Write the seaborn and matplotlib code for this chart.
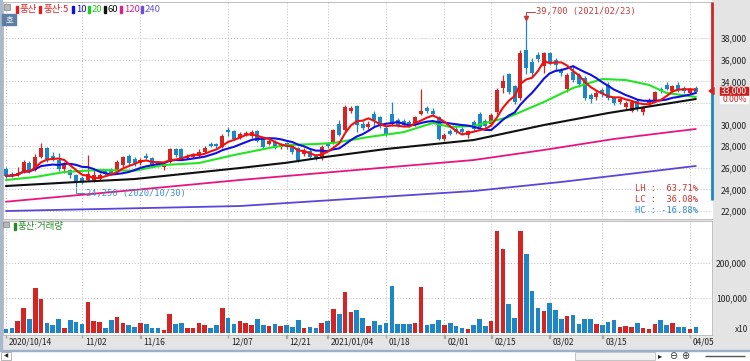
import numpy as np
import pandas as pd
import matplotlib
matplotlib.use('Agg')
import matplotlib.pyplot as plt
from matplotlib.patches import Rectangle, Polygon
import seaborn as sns

sns.set_style('white')
plt.rcParams['font.family'] = ['Noto Sans CJK KR', 'DejaVu Sans']
plt.rcParams['axes.unicode_minus'] = False

# 일봉 데이터 (2020/10/14 ~ 2021/04/06), 차트에서 읽은 값
opens = [25900, 25400, 25300, 25600, 26450, 25800, 27000, 27850, 27100, 26700,
         25900, 25800, 25300, 25100, 24900, 24900, 25000, 25700, 25800, 25800,
         26300, 27100, 26800, 26400, 27100, 26900, 26500, 26100, 26500, 27700,
         27700, 26900, 27000, 27100, 27500, 28200, 28200, 27900, 29500, 29400,
         28800, 29000, 28900, 29400, 28700, 28200, 28400, 27900, 28300, 28100,
         27800, 27300, 27600, 27100, 26900, 28200, 28300, 30100, 29500, 31300,
         31700, 30100, 29800, 31000, 30700, 29700, 31000, 30400, 30300, 30200,
         30000, 31000, 31500, 31300, 30700, 28700, 29400, 29600, 29600, 29000,
         30200, 31000, 30300, 30100, 31200, 33400, 34700, 33600, 32500, 36900,
         35800, 36400, 35400, 36600, 36000, 35000, 33300, 34900, 34600, 34300,
         32700, 32600, 33200, 33700, 32500, 32100, 31600, 31300, 32200, 31200,
         32000, 32300, 33300, 33700, 33100, 33700, 33400, 32900, 33400]
highs = [26100, 25600, 26100, 26700, 26600, 27300, 28300, 27900, 27500, 27400,
         26500, 25900, 25400, 25200, 27200, 25800, 25500, 25800, 26000, 26700,
         27100, 27300, 27000, 26900, 27400, 27000, 26600, 26500, 27800, 27800,
         27800, 27300, 27400, 27700, 28000, 28400, 28300, 29100, 29800, 29500,
         29300, 29400, 29500, 29500, 28800, 28700, 28600, 28300, 28400, 28200,
         27900, 27800, 27700, 27300, 28100, 28400, 29600, 30400, 31800, 31700,
         31800, 30300, 30300, 31300, 30800, 29900, 32100, 30600, 30500, 30400,
         30800, 33300, 31700, 31500, 30800, 29200, 29600, 29800, 29800, 29500,
         30400, 31200, 30500, 31100, 33400, 34600, 34800, 33700, 36900, 39700,
         36200, 36700, 36700, 36700, 36200, 35200, 34800, 35500, 34800, 34500,
         32900, 33100, 33400, 33900, 32600, 32600, 32200, 32300, 32400, 31700,
         32500, 33100, 33500, 33900, 33700, 33900, 33600, 33400, 33600]
lows = [25100, 25150, 25250, 25500, 25500, 25700, 26900, 26500, 26600, 25700,
        25500, 25100, 24250, 24500, 24800, 24700, 24900, 25300, 25400, 25700,
        26100, 26300, 26200, 26300, 26800, 26200, 26100, 25800, 26400, 27000,
        26700, 26800, 26900, 27000, 27400, 27900, 27800, 27800, 28900, 28600,
        28700, 28900, 28800, 28400, 27700, 28100, 27700, 27700, 27700, 27300,
        26500, 27100, 26800, 26700, 26700, 27800, 28200, 28900, 29400, 31100,
        29300, 29500, 29600, 29900, 29700, 28900, 29900, 29800, 29900, 29800,
        29900, 30900, 31100, 30800, 28600, 28500, 29000, 29100, 29100, 28800,
        29400, 29700, 29700, 29900, 31000, 32900, 32800, 31900, 32300, 34700,
        34500, 35800, 34800, 35500, 35000, 34500, 33000, 33900, 33500, 32300,
        32000, 32300, 32600, 32300, 31800, 31900, 31400, 31200, 31300, 30900,
        31800, 32200, 32900, 33200, 33000, 33000, 32900, 32800, 32900]
closes = [25250, 25300, 25550, 26500, 25700, 27000, 27800, 26800, 26800, 25900,
          26300, 25300, 24600, 24700, 25400, 25300, 25300, 25400, 25500, 26500,
          27000, 26400, 26400, 26700, 26900, 26300, 26300, 26300, 27700, 27200,
          26900, 27100, 27200, 27500, 27800, 28000, 28000, 28900, 29300, 28700,
          29100, 29200, 29300, 28500, 27900, 28500, 27800, 28100, 27900, 27500,
          26700, 27600, 27000, 26900, 27900, 28000, 29500, 29000, 31600, 31500,
          30000, 29700, 30100, 30400, 29900, 29100, 30100, 30000, 30000, 29900,
          30700, 31300, 31300, 31000, 28700, 29000, 29100, 29300, 29300, 29400,
          29600, 29800, 29900, 30900, 33200, 34000, 33000, 32100, 36600, 35200,
          34800, 36100, 36600, 35800, 35500, 34800, 34600, 34100, 33800, 32500,
          32400, 32900, 32800, 32500, 32000, 32400, 32000, 32100, 31500, 31500,
          32300, 33000, 33100, 33300, 33600, 33200, 33100, 33200, 33000]
volumes = [10500, 12400, 34000, 69500, 39000, 126600, 96000, 28600, 22800, 38000,
           13300, 35000, 30500, 25700, 86600, 34000, 31400, 14300, 35000, 44700,
           26700, 21900, 16200, 28600, 24800, 12400, 12400, 6700, 52400, 24800,
           28600, 12400, 12400, 26700, 21900, 12400, 21900, 71400, 41000, 25700,
           32400, 26700, 21900, 38000, 21900, 20000, 24800, 19000, 21900, 16200,
           35200, 12400, 16200, 14300, 28600, 32400, 67600, 53300, 116000, 58000,
           65700, 41000, 19000, 34300, 21900, 28600, 133000, 24800, 24800, 24800,
           28600, 129500, 21000, 24800, 36200, 22800, 28600, 20000, 14300, 10500,
           21900, 38000, 19000, 32400, 291000, 238000, 82800, 41900, 289000, 224700,
           120000, 69500, 62800, 84700, 63800, 38000, 48600, 50500, 24800, 40000,
           40000, 24800, 21900, 30500, 35200, 17000, 19000, 16200, 28600, 14300,
           10500, 24800, 36200, 21900, 26700, 15200, 15200, 10500, 17000]

# 이동평균선 (차트에서 읽은 점)
ma20_idx = [0, 5, 10, 16, 22, 27, 33, 39, 45, 48, 53, 56, 62, 68, 73, 76, 80, 86, 92, 97, 102, 106, 110, 113, 118]
ma20_val = [24870, 25150, 25610, 25800, 25730, 26260, 26440, 27185, 27830, 28110, 28200, 28300, 28850,
            29300, 30150, 29780, 29870, 30700, 32090, 33390, 34220, 34130, 33670, 32930, 32560]
ma60_idx = [0, 13, 22, 40, 48, 55, 65, 80, 92, 103, 118]
ma60_val = [24315, 24710, 24960, 25980, 26470, 27030, 27740, 28574, 29960, 31070, 32370]
ma120_idx = [0, 20, 40, 60, 80, 92, 104, 115, 118]
ma120_val = [22860, 23850, 24870, 25800, 26720, 27650, 28670, 29400, 29590]
ma240_idx = [0, 40, 80, 95, 108, 118]
ma240_val = [22000, 22460, 23850, 24690, 25520, 26170]

tick_idx = [0, 13, 23, 38, 48, 55, 65, 75, 83, 93, 102, 117]
tick_labels = ['2020/10/14', '11/02', '11/16', '12/07', '12/21', '2021/01/04',
               '01/18', '02/01', '02/15', '03/02', '03/15', '04/05']
price_ticks = list(range(22000, 38001, 2000))
vol_ticks = [100000, 200000]

UP, DOWN = '#d42424', '#1c86c6'
W, H = 750, 361

df = pd.DataFrame({'open': opens, 'high': highs, 'low': lows, 'close': closes, 'vol': volumes})
df['idx'] = np.arange(len(df))
df['dir'] = np.where(df['close'] >= df['open'], 'up', 'down')
df['ma5'] = df['close'].rolling(5, min_periods=1).mean()
df['ma10'] = df['close'].rolling(10, min_periods=1).mean()
colors = df['dir'].map({'up': UP, 'down': DOWN})

fig = plt.figure(figsize=(W / 100, H / 100), dpi=100)


def box(x0, y0, x1, y1):
    return [x0 / W, 1 - y1 / H, (x1 - x0) / W, (y1 - y0) / H]


def rect(x0, y0, x1, y1, **kw):
    fig.patches.append(Rectangle((x0 / W, 1 - y1 / H), (x1 - x0) / W, (y1 - y0) / H,
                                 transform=fig.transFigure, **kw))


def ftext(x, y, s, **kw):
    fig.text(x / W, 1 - y / H, s, **kw)


# 배경 영역 (축보다 아래에 그림)
rect(712, 0, 750, 335, color='#e4e4e4', zorder=-2)
rect(0, 335, 750, 350, color='#e4e4e4', zorder=-2)
rect(0, 219, 712, 221, color='#d4d4d4', zorder=-2)

ax_p = fig.add_axes(box(3, 2, 712, 219))
ax_v = fig.add_axes(box(3, 221, 712, 335))
ax_p.patch.set_alpha(0)
ax_v.patch.set_alpha(0)
rect(3, 2, 712, 219, color='white', zorder=-1)
rect(3, 221, 712, 335, color='white', zorder=-1)
xlim = ((3 - 6) / 5.846, (712 - 6) / 5.846)
ylim_p = (22000 + (211 - 219) / 0.0108, 22000 + (211 - 2) / 0.0108)

# 캔들
body_lo = np.minimum(df['open'], df['close'])
body_h = np.maximum(np.abs(df['close'] - df['open']), 70)
ax_p.vlines(df['idx'], df['low'], df['high'], colors=colors, lw=0.9, zorder=2)
ax_p.bar(df['idx'], body_h, bottom=body_lo, width=0.68, color=colors, lw=0, zorder=3)

# 이동평균선
sns.lineplot(x=ma240_idx, y=ma240_val, ax=ax_p, color='#5a46d8', lw=1.3, zorder=4)
sns.lineplot(x=ma120_idx, y=ma120_val, ax=ax_p, color='#e8157f', lw=1.3, zorder=4)
sns.lineplot(x=ma60_idx, y=ma60_val, ax=ax_p, color='#101010', lw=1.5, zorder=4)
sns.lineplot(x=ma20_idx, y=ma20_val, ax=ax_p, color='#22e622', lw=1.5, zorder=4)
sns.lineplot(x=df['idx'], y=df['ma10'], ax=ax_p, color='#1010e0', lw=1.5, zorder=5)
sns.lineplot(x=df['idx'], y=df['ma5'], ax=ax_p, color='#f01010', lw=1.5, zorder=6)

ax_p.set_xlim(xlim)
ax_p.set_ylim(ylim_p)
ax_p.set_yticks(price_ticks)
# 32,000 눈금 글자는 현재가 등락률 상자에 가려져 보이지 않음
ax_p.set_yticklabels(['' if t == 32000 else f'{t:,}' for t in price_ticks])
ax_p.set_xticks(tick_idx)
ax_p.set_xticklabels([])
ax_p.set_xlabel('')
ax_p.set_ylabel('')

# 거래량
sns.barplot(data=df, x='idx', y='vol', hue='dir', palette={'up': UP, 'down': DOWN},
            dodge=False, native_scale=True, width=0.78, legend=False, saturation=1,
            linewidth=0, ax=ax_v)
ax_v.set_xlim(xlim)
ax_v.set_ylim(-7000, 319000)
ax_v.set_yticks(vol_ticks)
ax_v.set_yticklabels([f'{t:,}' for t in vol_ticks])
ax_v.set_xticks(tick_idx)
ax_v.set_xticklabels([])
ax_v.set_xlabel('')
ax_v.set_ylabel('')

for ax in (ax_p, ax_v):
    ax.grid(True, ls=(0, (1, 2)), color='#bdbdbd', lw=0.7)
    ax.set_axisbelow(True)
    ax.yaxis.tick_right()
    ax.tick_params(axis='y', length=0, pad=25, labelsize=6.2, colors='#222222',
                   labelright=True, labelleft=False)
    ax.tick_params(axis='x', length=0)
    for lab in ax.get_yticklabels():
        lab.set_ha('right')
    for s in ax.spines.values():
        s.set_color('#b4b4b4')
        s.set_linewidth(0.6)
ax_p.spines['right'].set_visible(False)

# 현재가 표시
ax_p.vlines(xlim[1], 33000, ylim_p[1], colors='#d42424', lw=2, clip_on=False, zorder=7)
ax_p.vlines(xlim[1], 23000, 33000, colors='#1c86c6', lw=2, clip_on=False, zorder=7)
fig.patches.append(Polygon([(709 / W, 1 - 91 / H), (714 / W, 1 - 87.5 / H), (714 / W, 1 - 94.5 / H)],
                           closed=True, color='#d42424', transform=fig.transFigure, zorder=5))
rect(720, 87.5, 748, 94.5, color='#c82020', zorder=5)
ftext(747, 91, '33,000', ha='right', va='center', fontsize=6.2, color='white', zorder=6)
rect(720, 96, 748, 103, color='white', zorder=5)
ftext(747, 99.5, '0.00%', ha='right', va='center', fontsize=6.2, color='#d42424', zorder=6)
ftext(748, 330, 'x10', ha='right', va='center', fontsize=6, color='#222222')

# 최고가 / 최저가 표시
ax_p.plot([89, 89, 90.5], [39800, 40430, 40430], color='#c83a3a', lw=0.7, zorder=8)
ax_p.plot([89], [39850], marker='v', ms=3, color='#c83a3a', zorder=8)
ax_p.text(90.7, 40430, '39,700 (2021/02/23)', color='#c83a3a', fontsize=6.3,
          family='DejaVu Sans Mono', va='center', ha='left', zorder=8)
ax_p.plot([12, 12, 13.4], [24150, 23650, 23650], color='#3a8ed0', lw=0.7, zorder=8)
ax_p.text(13.6, 23650, '24,250 (2020/10/30)', color='#3a8ed0', fontsize=6.3,
          family='DejaVu Sans Mono', va='center', ha='left', zorder=8)

# 등락률
ax_p.text(118.3, 24050, 'LH :  63.71%', color='#d03030', fontsize=6.2, family='DejaVu Sans Mono', ha='right', va='center')
ax_p.text(118.3, 23030, 'LC :  36.08%', color='#d03030', fontsize=6.2, family='DejaVu Sans Mono', ha='right', va='center')
ax_p.text(118.3, 22030, 'HC : -16.88%', color='#2a8ad0', fontsize=6.2, family='DejaVu Sans Mono', ha='right', va='center')

# 범례
rect(4, 4, 10, 10, facecolor='#b8b8b8', edgecolor='#808080', lw=0.5, zorder=5)
legend_items = [(16, '풍산', '#e02020'), (39, '풍산:5', '#e02020'), (72, '10', '#1010e0'),
                (88, '20', '#22cc22'), (104, '60', '#111111'), (120, '120', '#e0208a'),
                (141, '240', '#6a50d8')]
for x, label, c in legend_items:
    rect(x, 6, x + 2, 13, color=c, zorder=5)
    ftext(x + 4, 9.5, label, ha='left', va='center', fontsize=6.8, color=c, zorder=6)
rect(2, 14, 16, 25, color='#5d7fa6', zorder=5)
ftext(9, 19.5, '호', ha='center', va='center', fontsize=6, color='white', zorder=6)

rect(3, 222, 9, 227, facecolor='#b8b8b8', edgecolor='#808080', lw=0.5, zorder=5)
rect(14, 223, 16, 230, color='#2a8a2a', zorder=5)
ftext(18, 226.5, '풍산:거래량', ha='left', va='center', fontsize=6.8, color='#2a8a2a', zorder=6)

# 날짜 축
for i, lab in zip(tick_idx, tick_labels):
    xp = 6 + 5.846 * i
    rect(xp - 0.3, 335, xp + 0.3, 338, color='#a8a8a8', zorder=2)
    ftext(xp + 3, 342.5, lab, ha='left', va='center', fontsize=6, color='#222222')

# 하단 스크롤 영역
rect(0, 349.5, 750, 350.5, color='#9db0c8', zorder=2)
rect(1, 351.5, 11, 360, facecolor='white', edgecolor='#9a9a9a', lw=0.5, zorder=2)
ftext(6, 356, '◀', ha='center', va='center', fontsize=4, color='#222222', family='DejaVu Sans')
rect(575, 351.5, 655, 360, facecolor='#f2f2f2', edgecolor='#b0b0b0', lw=0.5, zorder=2)
ftext(660, 356, '▸', ha='center', va='center', fontsize=6, color='#222222', family='DejaVu Sans')
ftext(673, 356, '⊖', ha='center', va='center', fontsize=7, color='#333333', family='DejaVu Sans')
ftext(685, 356, '⊕', ha='center', va='center', fontsize=7, color='#333333', family='DejaVu Sans')
rect(705, 355.5, 745, 356.2, color='#555555', zorder=2)
rect(0, 0, 1.5, 350, color='#a9b8cc', zorder=2)

plt.savefig('out.png', dpi=100)
